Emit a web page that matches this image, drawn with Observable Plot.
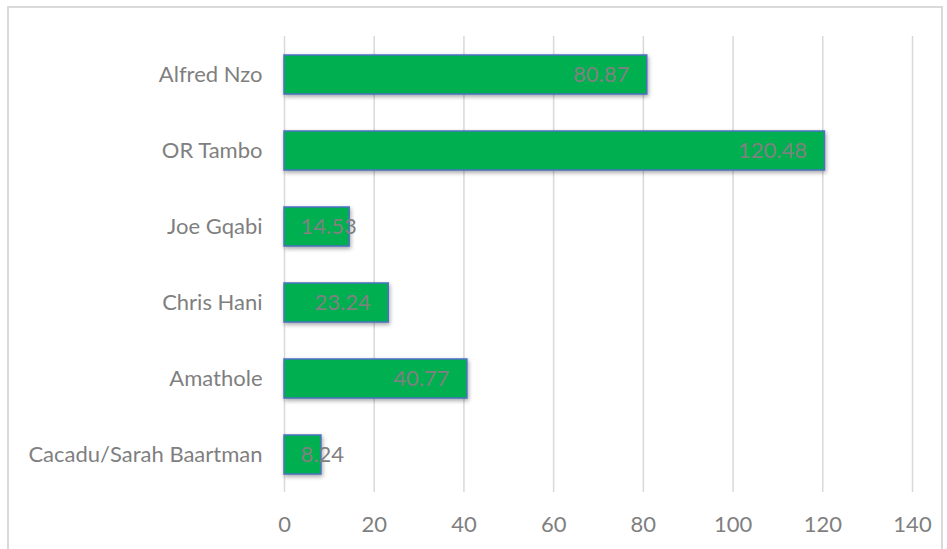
<!DOCTYPE html>
<html>
<head>
<meta charset="utf-8">
<script src="https://cdn.jsdelivr.net/npm/d3@7"></script>
<script src="https://cdn.jsdelivr.net/npm/@observablehq/plot@0.6"></script>
<style>
  html, body { margin: 0; padding: 0; background: #fff; overflow: hidden; }
  #wrap { position: relative; width: 947px; height: 549px; }
  #frame { position: absolute; left: 7px; top: 6px; width: 936px; height: 600px;
           border: 2px solid #d9d9d9; pointer-events: none; box-sizing: border-box; }
  #wrap svg g[aria-label="bar"] { filter: drop-shadow(1.5px 2.5px 2px rgba(0,0,0,0.35)); }
</style>
</head>
<body>
<div id="wrap"><div id="frame"></div></div>
<script>
const categories = ["Alfred Nzo", "OR Tambo", "Joe Gqabi", "Chris Hani", "Amathole", "Cacadu/Sarah Baartman"];
const values = [80.87, 120.48, 14.53, 23.24, 40.77, 8.24];
const xTicks = [0, 20, 40, 60, 80, 100, 120, 140];

const data = categories.map((c, i) => ({category: c, value: values[i]}));
const font = "Lato, 'Open Sans', sans-serif";

const chart = Plot.plot({
  width: 947,
  height: 549,
  marginLeft: 284,
  marginRight: 35,
  marginTop: 36,
  marginBottom: 57,
  style: {fontFamily: font, fontSize: "22px", color: "#7f7f7f", background: "transparent"},
  x: {domain: [0, 140], ticks: xTicks, tickSize: 0, tickPadding: 24, label: null},
  y: {domain: categories, tickSize: 0, tickPadding: 22, label: null, paddingInner: 0.49, paddingOuter: 0.245},
  marks: [
    Plot.gridX(xTicks, {stroke: "#d9d9d9", strokeOpacity: 1, strokeWidth: 1.5}),
    Plot.barX(data, {x: "value", y: "category", fill: "#00b050", stroke: "#4a72c0", strokeWidth: 1.5}),
    Plot.text(data.filter(d => d.value >= 20), {x: "value", y: "category", text: d => d.value.toFixed(2),
      textAnchor: "end", dx: -18, fill: "#808080", fontSize: 22}),
    Plot.text(data.filter(d => d.value < 20), {x: 0, y: "category", text: d => d.value.toFixed(2),
      textAnchor: "start", dx: 16, fill: "#808080", fontSize: 22})
  ]
});
document.getElementById("wrap").insertBefore(chart, document.getElementById("frame"));
</script>
</body>
</html>
